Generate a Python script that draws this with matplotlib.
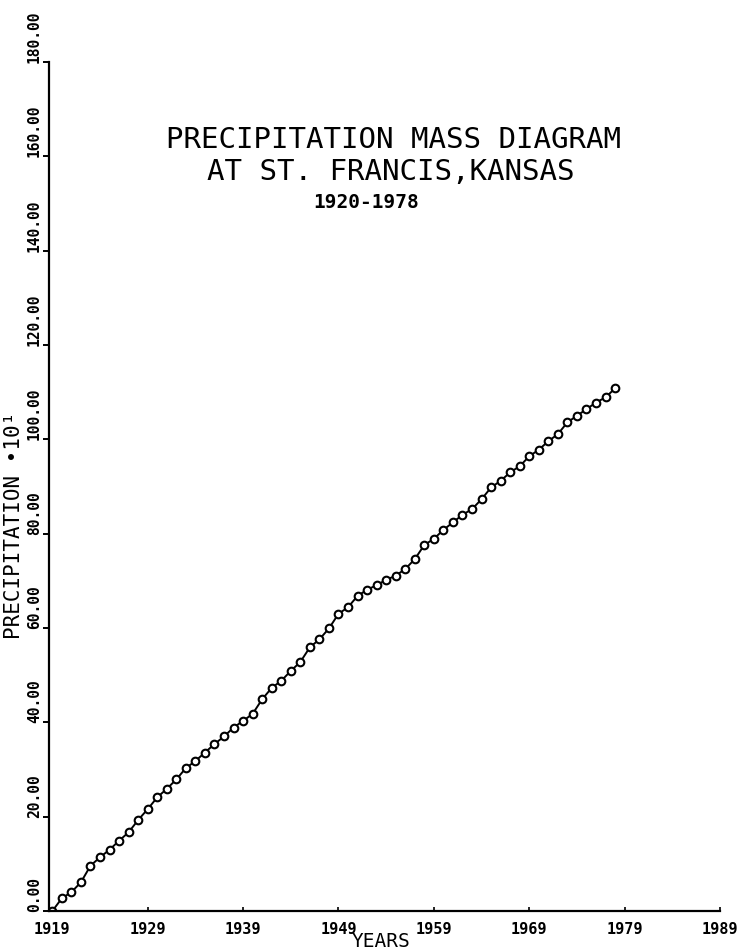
import matplotlib
matplotlib.use("Agg")
import matplotlib.pyplot as plt

# cumulative precipitation (x10 in.)
years = list(range(1919, 1979))
cum_precip = [
    0.0, 2.7, 4.0, 6.1, 9.6, 11.4, 13.0, 14.9, 16.7, 19.3,
    21.6, 24.1, 25.9, 27.9, 30.3, 31.8, 33.6, 35.4, 37.0, 38.9,
    40.3, 41.8, 44.9, 47.3, 48.8, 50.9, 52.8, 55.9, 57.6, 59.9,
    63.0, 64.4, 66.8, 68.1, 69.1, 70.2, 71.1, 72.5, 74.6, 77.6,
    78.9, 80.8, 82.4, 84.0, 85.2, 87.3, 89.8, 91.2, 93.0, 94.3,
    96.4, 97.8, 99.6, 101.1, 103.6, 105.0, 106.4, 107.8, 108.9, 110.8,
]
x_ticks = list(range(1919, 1990, 10))
y_ticks = list(range(0, 181, 20))

title_lines = ["PRECIPITATION MASS DIAGRAM", "AT ST. FRANCIS,KANSAS", "1920-1978"]

MONO = "DejaVu Sans Mono"
W, H = 741, 953

fig = plt.figure(figsize=(W / 100, H / 100), dpi=100)
ax = fig.add_axes([49 / W, 1 - 912 / H, (720 - 49) / W, (912 - 63) / H])

ax.plot(years, cum_precip, color="black", lw=1.4,
        marker="o", ms=5.5, mfc="white", mec="black", mew=1.5)

ax.set_xlim(1918.65, 1989)
ax.set_ylim(0, 180)
ax.set_xticks(x_ticks)
ax.set_yticks(y_ticks)
ax.set_xticklabels([str(y) for y in x_ticks], family=MONO, fontsize=11,
                   fontweight="bold")
ax.set_yticklabels(["%.2f" % v for v in y_ticks], family=MONO, fontsize=10.5,
                   fontweight="bold")
plt.setp(ax.get_yticklabels(), rotation=90, va="bottom")

for side in ("top", "right"):
    ax.spines[side].set_visible(False)
for side in ("left", "bottom"):
    ax.spines[side].set_linewidth(1.6)
ax.tick_params(axis="y", direction="out", length=4, width=1.4, pad=1)
ax.tick_params(axis="x", direction="in", length=3, width=1.2, pad=7)

# title block inside the plot area
fig.text(393 / W, 1 - 140 / H, title_lines[0], family=MONO, fontsize=21,
         ha="center", va="center")
fig.text(391 / W, 1 - 172 / H, title_lines[1], family=MONO, fontsize=21,
         ha="center", va="center")
fig.text(366 / W, 1 - 202 / H, title_lines[2], family=MONO, fontsize=14,
         fontweight="bold", ha="center", va="center")

fig.text(381 / W, 1 - 942 / H, "YEARS", family=MONO, fontsize=14,
         ha="center", va="center")
fig.text(14 / W, 1 - 525 / H, "PRECIPITATION \u202210\u00b9", family=MONO,
         fontsize=15, rotation=90, ha="center", va="center")

fig.savefig("out.png", dpi=100)
